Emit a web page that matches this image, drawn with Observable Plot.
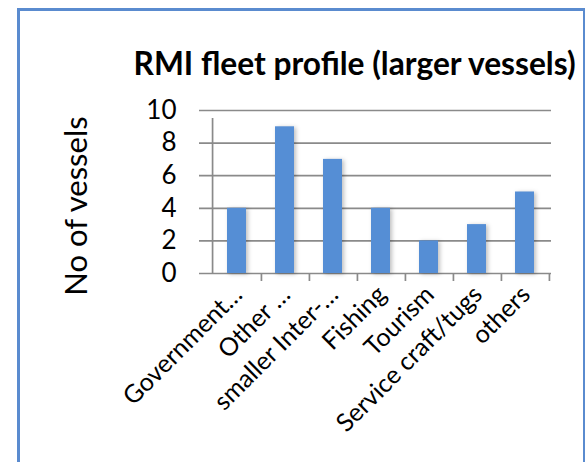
<!DOCTYPE html>
<html>
<head>
<meta charset="utf-8">
<script src="https://cdn.jsdelivr.net/npm/d3@7"></script>
<script src="https://cdn.jsdelivr.net/npm/@observablehq/plot@0.6"></script>
<style>
  html, body { margin: 0; padding: 0; background: #fff; }
  #wrap { position: relative; width: 585px; height: 462px; overflow: hidden; }
  #border { position: absolute; left: 17px; top: 8px; width: 568px; height: 458px; box-sizing: border-box; border: 3px solid #5a8bcf; border-right-width: 2px; pointer-events: none; }
  svg { font-family: Lato, "Open Sans", sans-serif; }
  .bars rect { filter: drop-shadow(2px 1px 2px rgba(0,0,0,0.25)); }
</style>
</head>
<body>
<div id="wrap"><div id="border"></div></div>
<script>
const categories = ["Government…", "Other …", "smaller Inter-…", "Fishing", "Tourism", "Service craft/tugs", "others"];
const vessels = [4, 9, 7, 4, 2, 3, 5];
const yTicks = [0, 2, 4, 6, 8, 10];
const title = "RMI fleet profile (larger vessels)";
const yTitle = "No of vessels";

const data = categories.map((c, i) => ({category: c, value: vessels[i]}));
const step = (585 - 209 - 34) / categories.length;

const chart = Plot.plot({
  width: 585,
  height: 462,
  marginLeft: 209,
  marginRight: 34,
  marginTop: 110,
  marginBottom: 189,
  style: {fontFamily: "Lato, 'Open Sans', sans-serif", color: "#000", background: "transparent", overflow: "visible"},
  x: {domain: categories, paddingInner: 0.61, paddingOuter: 0.305, label: null},
  y: {domain: [0, 10], ticks: yTicks, label: null},
  marks: [
    Plot.ruleY(yTicks, {stroke: "#8a8a8a", strokeWidth: 1.7, strokeOpacity: 1, insetLeft: -10}),
    Plot.ruleX([categories[0]], {dx: -step / 2, y1: 0, y2: 10, insetBottom: -8, stroke: "#8a8a8a", strokeWidth: 1.7}),
    Plot.ruleX(categories, {dx: step / 2, y1: 0, y2: 0, insetBottom: -8, stroke: "#8a8a8a", strokeWidth: 1.7}),
    Plot.barY(data, {x: "category", y: "value", fill: "#558ed5", className: "bars"}),
    Plot.axisY(yTicks, {tickSize: 0, tickPadding: 33, fontSize: 26, label: null}),
    Plot.axisX({tickSize: 0, tickRotate: -45, tickPadding: 17, dx: 1, fontSize: 25, label: null}),
    Plot.text([title], {frameAnchor: "top-left", textAnchor: "start", lineAnchor: "bottom", dx: -76, dy: -36, fontSize: 31.7, fontWeight: "bold"}),
    Plot.text([yTitle], {frameAnchor: "left", textAnchor: "middle", rotate: -90, dx: -132, dy: 14, fontSize: 31})
  ]
});
document.getElementById("wrap").prepend(chart);
</script>
</body>
</html>
